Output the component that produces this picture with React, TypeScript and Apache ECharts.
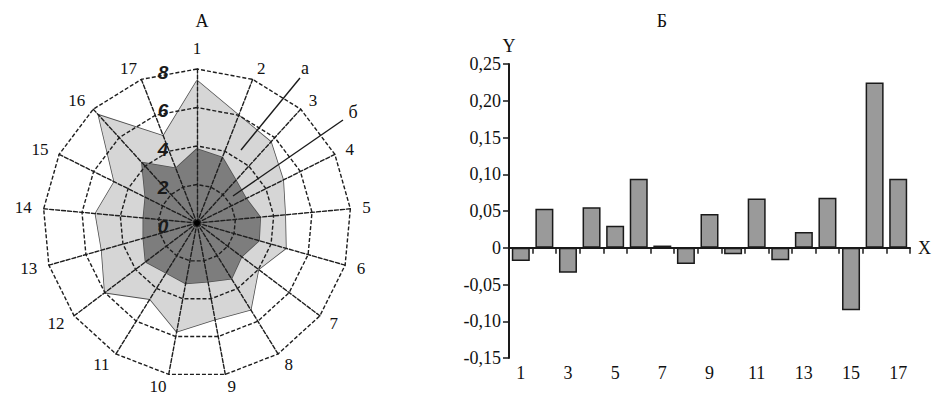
import React, { useEffect, useRef } from "react";
import * as echarts from "echarts";

// Radar (A)
const radarAxes = ["1","2","3","4","5","6","7","8","9","10","11","12","13","14","15","16","17"];
const seriesA = [7.4, 6.0, 5.7, 5.0, 4.6, 4.8, 4.0, 5.3, 5.1, 5.75, 4.65, 6.0, 5.15, 5.3, 4.8, 7.6, 4.85];
const seriesB = [3.85, 3.65, 3.0, 2.85, 3.3, 3.35, 2.9, 3.4, 3.1, 3.2, 3.05, 3.35, 2.9, 2.8, 3.0, 4.25, 3.05];
const radarTicks = [0, 2, 4, 6, 8];
const radarMax = 8;

// Bars (Б)
const barCategories = ["1","2","3","4","5","6","7","8","9","10","11","12","13","14","15","16","17"];
const barValues = [-0.018, 0.053, -0.034, 0.055, 0.030, 0.094, 0.003, -0.022, 0.046, -0.009, 0.067, -0.017, 0.0215, 0.068, -0.085, 0.225, 0.094];

const SERIF = '"Liberation Serif", "Times New Roman", serif';
const SANS = '"Liberation Sans", Arial, sans-serif';

export default function App() {
  const ref = useRef<HTMLDivElement>(null);
  useEffect(() => {
    if (!ref.current) return;
    const chart = echarts.init(ref.current, null, { renderer: "svg" });
    const cx = 197, cy = 223, R = 154;
    // ECharts radar goes counter-clockwise: reverse (keeping first) for clockwise order
    const order = [0, ...radarAxes.map((_, i) => i).slice(1).reverse()];
    const indicator = order.map((i) => ({ name: radarAxes[i], max: radarMax, min: 0 }));
    const dA = order.map((i) => seriesA[i]);
    const dB = order.map((i) => seriesB[i]);
    const dash = { color: "#1e1e1e", width: 1.4, type: [4, 2] as any };

    const tickTexts = radarTicks.map((t) => ({
      type: "text",
      x: cx - 34,
      y: cy - (t / radarMax) * R + 3,
      z: 20,
      style: {
        text: String(t),
        font: `italic bold 19px ${SANS}`,
        fill: "#1a1a1a",
        align: "center",
        verticalAlign: "middle",
      },
    }));

    chart.setOption({
      animation: false,
      title: [
        { text: "А", left: 197, top: 7, textAlign: "center", textStyle: { fontFamily: SERIF, fontWeight: "normal", fontSize: 18, color: "#111" } },
        { text: "Б", left: 657, top: 7, textAlign: "center", textStyle: { fontFamily: SERIF, fontWeight: "normal", fontSize: 18, color: "#111" } },
      ],
      radar: {
        center: [cx, cy],
        radius: R,
        startAngle: 90,
        shape: "polygon",
        splitNumber: 4,
        z: 10,
        indicator,
        axisName: { color: "#111", fontSize: 17, fontFamily: SERIF },
        nameGap: 12,
        splitLine: { lineStyle: dash },
        axisLine: { lineStyle: dash },
        splitArea: { show: false },
        axisTick: { show: false },
        axisLabel: { show: false },
      },
      grid: { left: 509, right: 19, top: 64, bottom: 36 },
      xAxis: [
        {
          type: "category",
          data: barCategories,
          position: "bottom",
          axisLine: { onZero: true, lineStyle: { color: "#1a1a1a", width: 2 } },
          axisTick: { show: true, length: 6, lineStyle: { color: "#1a1a1a", width: 1.5 } },
          axisLabel: { show: false },
          name: "X",
          nameLocation: "end",
          nameGap: 8,
          nameTextStyle: { fontFamily: SERIF, fontSize: 18, color: "#111" },
        },
        {
          type: "category",
          data: barCategories,
          position: "bottom",
          axisLine: { show: false, onZero: false },
          axisTick: { show: false },
          axisLabel: { interval: 1, margin: 6, fontFamily: SERIF, fontSize: 18, color: "#111" },
        },
      ],
      yAxis: {
        type: "value",
        min: -0.15,
        max: 0.25,
        interval: 0.05,
        name: "Y",
        nameGap: 6,
        nameTextStyle: { fontFamily: SERIF, fontSize: 18, color: "#111", align: "center" },
        axisLine: { show: true, lineStyle: { color: "#1a1a1a", width: 2 } },
        axisTick: { show: true, length: 6, lineStyle: { color: "#1a1a1a", width: 1.5 } },
        splitLine: { show: false },
        axisLabel: {
          margin: 8,
          fontFamily: SERIF,
          fontSize: 18,
          color: "#111",
          formatter: (v: number) => (Math.abs(v) < 1e-9 ? "0" : v.toFixed(2).replace(".", ",")),
        },
      },
      series: [
        {
          type: "radar",
          z: 1,
          symbol: "none",
          data: [
            { value: dA, name: "а", areaStyle: { color: "#d6d6d6", opacity: 1 }, lineStyle: { color: "#505050", width: 1.6 } },
            { value: dB, name: "б", areaStyle: { color: "#7d7d7d", opacity: 1 }, lineStyle: { color: "#505050", width: 1.6 } },
          ],
        },
        {
          type: "bar",
          xAxisIndex: 0,
          yAxisIndex: 0,
          data: barValues,
          barWidth: 18,
          itemStyle: { color: "#9a9a9a", borderColor: "#1a1a1a", borderWidth: 1.5 },
        },
      ],
      graphic: [
        ...tickTexts,
        { type: "circle", z: 20, shape: { cx, cy, r: 3 }, style: { fill: "#000" } },
        { type: "line", z: 20, shape: { x1: 300, y1: 78, x2: 241, y2: 150 }, style: { stroke: "#1a1a1a", lineWidth: 1.4 } },
        { type: "line", z: 20, shape: { x1: 343, y1: 120, x2: 233, y2: 196 }, style: { stroke: "#1a1a1a", lineWidth: 1.4 } },
        { type: "text", z: 20, x: 305, y: 68, style: { text: "а", font: `18px ${SERIF}`, fill: "#111", align: "center", verticalAlign: "middle" } },
        { type: "text", z: 20, x: 353, y: 112, style: { text: "б", font: `18px ${SERIF}`, fill: "#111", align: "center", verticalAlign: "middle" } },
      ],
    });
    return () => chart.dispose();
  }, []);
  return <div ref={ref} style={{ position: "absolute", left: 0, top: 0, width: 934, height: 394 }} />;
}
